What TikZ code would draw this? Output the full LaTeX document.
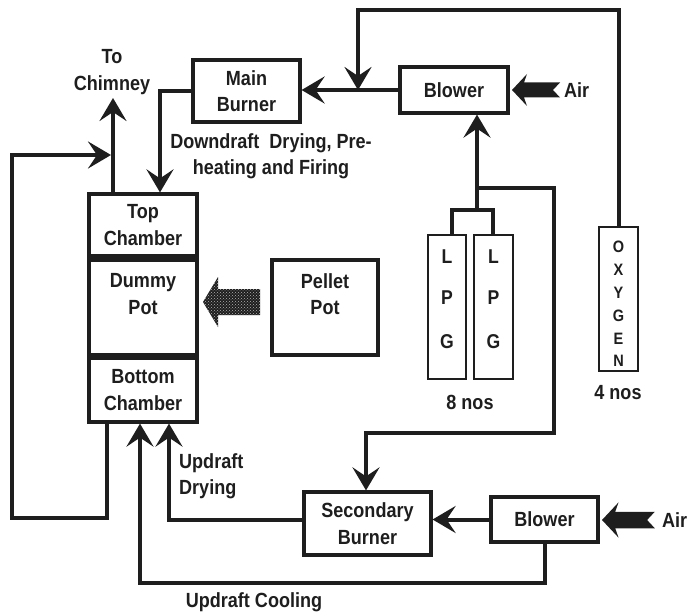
\documentclass[tikz,border=0pt]{standalone}
\usepackage{fontspec}
\setmainfont[FakeStretch=0.88]{Liberation Sans}
\usetikzlibrary{arrows.meta,patterns,calc}
\definecolor{ink}{HTML}{1E1E1E}
\begin{document}
\begin{tikzpicture}[x=1pt,y=-1pt,
  font=\fontsize{20.5}{26.5}\selectfont\bfseries,
  box/.style={draw=ink, line width=3.2pt, fill=white, inner sep=0pt, align=center, text=ink},
  thinbox/.style={box, line width=2.2pt},
  flow/.style={draw=ink, line width=4pt, -{Stealth[length=23pt,width=27pt,inset=9pt]}},
  pipe/.style={draw=ink, line width=4pt},
  lbl/.style={text=ink, align=center, inner sep=0pt},
  letter/.style={lbl, font=\fontsize{20}{22}\selectfont\bfseries},
  oletter/.style={lbl, font=\fontsize{16.5}{18}\selectfont\bfseries},
  airarrow/.pic={\fill[ink] (0,0) -- (15,-16) -- (12,-7.5) -- (48,-7.5) -- (41,0) -- (48,7.5) -- (12,7.5) -- (15,16) -- cycle;}
]
\useasboundingbox (0,0) rectangle (688,615);

% --- boxes ---
\node[box, minimum width=107pt, minimum height=62pt] (mainb) at (246.5,91) {Main\\Burner};
\node[box, minimum width=108pt, minimum height=46pt] (blowt) at (454,90) {Blower};
\node[box, minimum width=108pt, minimum height=62pt] (topc) at (143,225) {Top\\Chamber};
\node[box, minimum width=108pt, minimum height=95pt] (dummy) at (143,307.5) {};
\node[lbl] (dummyt) at (143,294) {Dummy\\Pot};
\node[box, minimum width=108pt, minimum height=64pt] (botc) at (143,390) {Bottom\\Chamber};
\node[box, minimum width=106pt, minimum height=95pt] (pellet) at (325,307.5) {};
\node[lbl] (pellett) at (325,294) {Pellet\\Pot};
\node[box, minimum width=127pt, minimum height=63pt] (secb) at (367.5,523.5) {Secondary\\Burner};
\node[box, minimum width=107pt, minimum height=45pt] (blowb) at (544.5,519.5) {Blower};

% gas cylinders
\node[thinbox, minimum width=38pt, minimum height=144pt] (lpga) at (447,307) {};
\node[thinbox, minimum width=39pt, minimum height=144pt] (lpgb) at (493.5,307) {};
\node[letter] (la1) at (447,257) {L};
\node[letter] (la2) at (447,298) {P};
\node[letter] (la3) at (447,342) {G};
\node[letter] (lb1) at (493.5,257) {L};
\node[letter] (lb2) at (493.5,298) {P};
\node[letter] (lb3) at (493.5,342) {G};
\node[thinbox, minimum width=39pt, minimum height=144pt] (oxy) at (618.5,299) {};
\node[oletter] (o1) at (618.5,247) {O};
\node[oletter] (o2) at (618.5,269.5) {X};
\node[oletter] (o3) at (618.5,292.5) {Y};
\node[oletter] (o4) at (618.5,315.5) {G};
\node[oletter] (o5) at (618.5,338.5) {E};
\node[oletter] (o6) at (618.5,361) {N};

% --- labels ---
\node[lbl] (chimt) at (112,72) {To\\Chimney};
\node[lbl] (ddt) at (271,156) {Downdraft\ \ Drying, Pre-\\heating and Firing};
\node[lbl, align=left, anchor=west] (udt) at (179,476) {Updraft\\Drying};
\node[lbl] (uct) at (254,602) {Updraft Cooling};
\node[lbl] (n8) at (470,402) {8 nos};
\node[lbl] (n4) at (618,393) {4 nos};
\node[lbl, anchor=west] (airt) at (564,90) {Air};
\node[lbl, anchor=west] (airb) at (662,520) {Air};

% --- helper coordinates ---
\coordinate (oxj) at (358,90);
\coordinate (oxtop) at (0,10);
\coordinate (dd) at (160,0);
\coordinate (chim) at (113,98);
\coordinate (xl) at (107,0);
\coordinate (lb) at (12,518);
\coordinate (lt) at (12,155);
\coordinate (lend) at (111,155);
\coordinate (ba) at (452,210);
\coordinate (bb) at (493,210);
\coordinate (bj) at (477,210);
\coordinate (br) at (477,188);
\coordinate (bc) at (554,433);
\coordinate (bd) at (366,433);
\coordinate (ud) at (169,0);
\coordinate (uc) at (140,583);

% --- connectors ---
\draw[flow] (blowt.west) -- (mainb.east |- blowt.west);
\draw[flow] (oxy.north) -- (oxy.north |- oxtop) -| (oxj);
\draw[flow] (mainb.west) -| (topc.north -| dd);
\draw[flow] (topc.north -| chim) -- (chim);
\draw[flow] (botc.south -| xl) -- (lb -| xl) -- (lb) -- (lt) -- (lend);
\draw[pipe] (lpga.north -| ba) -- (ba) -- (bb) -- (lpgb.north -| bb);
\draw[flow] (bj) -- (blowt.south -| bj);
\draw[flow] (br) -| (bc) -- (bd) -- (secb.north -| bd);
\draw[flow] (blowb.west) -- (secb.east |- blowb.west);
\draw[flow] (secb.west |- blowb.west) -| (botc.south -| ud);
\draw[flow] (blowb.south) -- (blowb.south |- uc) -- (uc) -- (botc.south -| uc);

% air inlets
\pic at (512,90) {airarrow};
\pic[scale=1.1] at (602,520) {airarrow};

% pellet transfer arrow
\coordinate (pa) at (203,302);
\fill[ink] (pa) -- (218,277) -- (218,289) -- (260,289) -- (260,315) -- (218,315) -- (218,327) -- cycle;
\fill[pattern=crosshatch dots, pattern color=gray!60] (pa) -- (218,277) -- (218,289) -- (260,289) -- (260,315) -- (218,315) -- (218,327) -- cycle;
\end{tikzpicture}
\end{document}
